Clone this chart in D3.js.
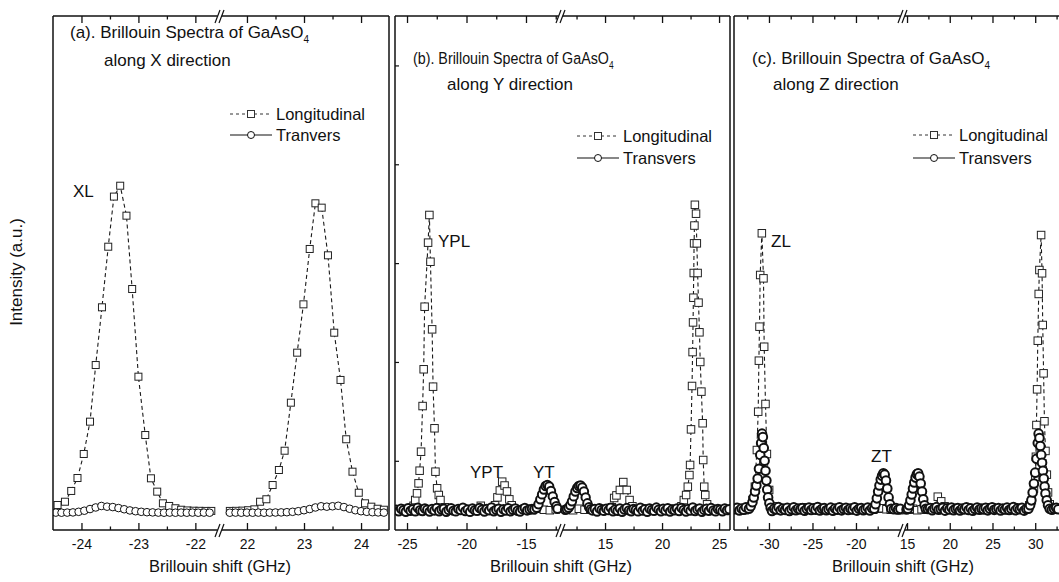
<!DOCTYPE html>
<html>
<head>
<meta charset="utf-8">
<script src="https://cdn.jsdelivr.net/npm/d3@7"></script>
<style>
  body { margin: 0; background: #fff; }
  text { font-family: Arial, "Liberation Sans", sans-serif; fill: #111; }
</style>
</head>
<body>
<svg id="chart" width="1059" height="582"></svg>
<script>
// ---- Data (Brillouin shift in GHz, intensity in arbitrary counts) ----

// (a) X direction
const aLongLeftX = [-24.42,-24.29,-24.18,-24.07,-23.96,-23.85,-23.75,-23.64,-23.53,-23.43,-23.32,-23.21,-23.11,-23.0,-22.88,-22.78,-22.67,-22.57,-22.46,-22.35,-22.25,-22.14,-22.03,-21.93,-21.82,-21.72];
const aLongLeftY = [253,286,395,526,769,1096,1669,2253,2866,3373,3483,3180,2438,1551,961,523,388,270,243,220,205,198,195,194,193,193];
const aLongRightX = [21.7,21.81,21.92,22.02,22.13,22.23,22.34,22.45,22.56,22.66,22.77,22.88,22.99,23.10,23.20,23.31,23.42,23.53,23.64,23.74,23.85,23.96,24.07,24.18,24.29,24.4];
const aLongRightY = [193,194,196,200,209,286,311,455,607,802,1288,1794,2283,2843,3305,3261,2779,1996,1518,918,590,377,270,236,215,205];
const aTransLeftX = [-24.45,-24.35,-24.25,-24.15,-24.05,-23.95,-23.85,-23.75,-23.65,-23.55,-23.45,-23.35,-23.25,-23.15,-23.05,-22.95,-22.85,-22.75,-22.65,-22.55,-22.45,-22.35,-22.25,-22.15,-22.05,-21.95,-21.85,-21.75];
const aTransLeftY = [176,175,176,178,184,195,212,228,243,236,232,222,210,198,190,184,180,178,176,175,176,175,176,175,176,175,176,175];
const aTransRightX = [21.7,21.8,21.9,22.0,22.1,22.2,22.3,22.4,22.5,22.6,22.7,22.8,22.9,23.0,23.1,23.2,23.3,23.4,23.5,23.6,23.7,23.8,23.9,24.0,24.1,24.2,24.3,24.4];
const aTransRightY = [175,176,175,176,175,176,175,176,177,178,180,184,190,200,212,228,240,236,240,245,232,215,200,190,184,180,178,176];

// (b) Y direction
const bLongLeftX = [-25.8,-25.3,-24.8,-24.45,-24.31,-24.16,-24.03,-23.94,-23.82,-23.69,-23.60,-23.52,-23.23,-23.12,-23.03,-22.89,-22.81,-22.69,-22.61,-22.47,-22.33,-22.19,-21.8,-21.3,-20.8,-20.3,-19.8,-19.3,-18.8,-18.3,-17.8,-17.6,-17.4,-17.2,-17.0,-16.8,-16.6,-16.4,-16.2,-16.0,-15.5,-15.0,-14.5,-14.0,-13.5,-13.0,-12.5];
const bLongLeftY = [205,215,222,245,303,371,472,600,792,1254,1626,2259,2907,3187,2714,2030,1450,1029,590,422,354,303,230,210,200,215,205,210,245,215,210,250,330,400,489,450,390,310,250,215,205,210,200,215,205,200,210];
const bLongRightX = [11.7,12.2,12.7,13.2,13.7,14.2,14.7,15.2,15.6,15.8,16.0,16.3,16.6,16.9,17.15,17.4,17.8,18.3,18.8,19.3,19.8,20.3,20.8,21.3,21.7,21.91,22.11,22.26,22.40,22.46,22.54,22.63,22.68,22.72,22.75,22.78,22.81,22.84,22.88,22.98,23.05,23.12,23.20,23.28,23.35,23.45,23.56,23.61,23.70,23.79,23.95,24.4,24.9,25.4,25.9];
const bLongRightY = [210,200,215,205,210,200,215,205,230,324,350,405,485,405,303,240,210,205,215,200,210,205,215,205,240,303,354,438,556,658,1018,1457,1800,2100,2350,2600,2900,3080,3290,3200,2900,2600,2300,2000,1700,1400,1080,708,438,354,260,215,205,210,205];
const bTransLeftStart = -25.9, bTransRightStart = 13.9, bTransStep = 0.2;
const bTransLeftBase = [205,190,215,200,185,220,195,210,188,225,200,192,218,205,186,212,198,224,190,207,215,185,203,220,196,188,214,202,226,191,208,183,219,200,193,222,206,187,213,199,228,190,205,216,184,210,197,221,189,204,217,195,186,211,223,198,207,214];
const bTransRightBase = [198,212,187,220,204,193,216,201,226,189,209,195,219,185,207,222,199,190,214,203,188,225,196,211,184,218,202,193,227,206,189,215,198,221,186,209,200,217,191,224,204,187,213,196,229,192,208,219,185,203,215,194,222,199,188,212,206,190,218,201,210];
const bTransLeftPeakX = [-14.3,-14.1,-13.95,-13.8,-13.65,-13.5,-13.35,-13.2,-13.05,-12.9,-12.75,-12.6,-12.45,-12.35];
const bTransLeftPeakY = [210,225,260,310,360,410,445,455,440,395,340,285,240,215];
const bTransRightPeakX = [11.5,11.65,11.8,11.95,12.1,12.25,12.4,12.55,12.7,12.85,13.0,13.15,13.3,13.45,13.6,13.75];
const bTransRightPeakY = [205,210,225,250,290,340,390,425,445,450,430,390,330,270,230,210];

// (c) Z direction
const cLongLeftX = [-33.8,-33.3,-32.8,-32.3,-31.9,-31.62,-31.39,-31.24,-31.16,-31.09,-31.01,-30.82,-30.63,-30.55,-30.40,-30.24,-29.98,-29.5,-29.0,-28.5,-28.0,-27.5,-27.0,-26.5,-26.0,-25.5,-25.0,-24.5,-24.0,-23.5,-23.0,-22.5,-22.0,-21.5,-21.0,-20.5,-20.0,-19.5,-19.0,-18.5,-18.0,-17.5,-17.0,-16.5,-16.0,-15.5,-15.0];
const cLongLeftY = [205,215,200,230,303,438,809,1197,1713,2057,2580,3002,2546,1854,1275,769,405,240,210,205,215,200,210,205,230,215,205,210,200,215,205,210,220,205,215,200,210,205,215,210,205,215,220,210,205,215,200];
const cLongRightX = [14.9,15.2,15.7,16.2,16.7,17.2,17.7,18.2,18.6,19.0,19.4,19.9,20.4,20.9,21.4,21.9,22.4,22.9,23.4,23.9,24.4,24.9,25.4,25.9,26.4,26.9,27.4,27.9,28.4,28.9,29.3,29.6,29.85,30.0,30.08,30.14,30.22,30.3,30.41,30.49,30.69,30.8,30.88,30.98,31.08,31.2,31.36,31.5,31.7,32.1,32.5];
const cLongRightY = [210,205,215,200,210,205,215,230,337,290,240,210,205,215,205,210,220,205,215,200,210,230,205,215,210,200,215,205,210,220,250,300,420,539,741,1062,1423,1915,2388,2630,2984,2597,2074,1585,1100,800,560,380,260,215,205];
const cTransLeftStart = -33.9, cTransRightStart = 14.95, cTransStep = 0.25;
const cTransLeftBase = [210,225,198,218,205,230,195,212,222,200,215,228,196,209,220,203,226,192,214,207,231,199,217,204,224,193,211,229,201,216,208,223,195,213,227,202,219,206,233,197,214,221,200,210,226,194,218,205,229,199,212,224,203,217,208,230,196,215,222,201,211,227,198,219,206,225,193,213,220,204,216,228,199,210,223,207,214];
const cTransRightBase = [208,222,197,215,229,203,218,210,226,194,213,221,200,217,231,205,212,224,196,219,207,228,201,214,223,198,216,209,230,203,220,195,213,227,206,218,211,225,199,215,229,204,212,221,197,217,208,226,202,214,232,200,219,210,224,196,213,228,205,218,209,222,199,216,227,203,211,220,206,214,225,210];
const cTransZLX = [-32.3,-32.1,-31.9,-31.75,-31.6,-31.45,-31.3,-31.15,-31.0,-30.9,-30.8,-30.7,-30.6,-30.5,-30.4,-30.3,-30.2,-30.1,-29.95,-29.8];
const cTransZLY = [215,240,280,330,390,450,520,620,760,880,975,940,830,700,600,500,410,330,270,225];
const cTransZTX = [-17.9,-17.75,-17.6,-17.45,-17.3,-17.15,-17.0,-16.85,-16.7,-16.55,-16.4,-16.25,-16.1,-15.95];
const cTransZTY = [215,260,320,390,450,510,550,573,560,500,420,330,260,215];
const cTransRightPeak1X = [15.1,15.25,15.4,15.55,15.7,15.85,16.0,16.15,16.3,16.45,16.6,16.75,16.9,17.05,17.2];
const cTransRightPeak1Y = [215,250,300,360,420,480,530,565,573,540,470,390,310,250,215];
const cTransRightPeak2X = [29.2,29.4,29.55,29.7,29.85,30.0,30.15,30.3,30.4,30.5,30.6,30.7,30.8,30.9,31.0,31.1,31.2,31.35,31.5,31.7];
const cTransRightPeak2Y = [215,250,300,380,470,580,720,880,975,930,850,760,680,600,520,440,370,300,250,215];

// Ticks
const aMajorL = [-24,-23,-22], aMinorL = [-23.5,-22.5], aMajorR = [22,23,24], aMinorR = [22.5,23.5];
const bMajorL = [-25,-20,-15], bMinorL = [-22.5,-17.5,-12.5], bMajorR = [15,20,25], bMinorR = [12.5,17.5,22.5];
const cMajorL = [-30,-25,-20], cMinorL = [-32.5,-27.5,-22.5,-17.5], cMajorR = [15,20,25,30], cMinorR = [17.5,22.5,27.5,32.5];
const yTicksB = [700,1700,2700,3700,4700];

// ---- helpers ----
function pts(xs, ys) { return d3.zip(xs, ys); }

// baseline grid plus explicit peak points; grid points under a peak are dropped
function withPeaks(start, step, base, peaks) {
  const grid = base.map((v, i) => [start + i * step, v]);
  const keep = grid.filter(d => !peaks.some(p => d[0] >= d3.min(p[0]) - step / 2 && d[0] <= d3.max(p[0]) + step / 2));
  return keep.concat(peaks.flatMap(p => pts(p[0], p[1]))).sort((a, b) => a[0] - b[0]);
}

const yTop = 16, yBottom = 530;
const y = d3.scaleLinear().domain([0, 5200]).range([yBottom, yTop]);

const panels = [
  { key: "a", x0: 53, x1: 389, bx: 220, domL: [-24.5, -21.62], domR: [21.58, 24.49],
    majL: aMajorL, minL: aMinorL, majR: aMajorR, minR: aMinorR, r: 3.8, cw: 1, sq: 7,
    longL: pts(aLongLeftX, aLongLeftY), longR: pts(aLongRightX, aLongRightY),
    transL: pts(aTransLeftX, aTransLeftY), transR: pts(aTransRightX, aTransRightY) },
  { key: "b", x0: 395, x1: 730, bx: 561, domL: [-26.01, -12.31], domR: [11.4, 25.96],
    majL: bMajorL, minL: bMinorL, majR: bMajorR, minR: bMinorR, r: 4.2, cw: 2, sq: 7.5,
    longL: pts(bLongLeftX, bLongLeftY), longR: pts(bLongRightX, bLongRightY),
    transL: withPeaks(bTransLeftStart, bTransStep, bTransLeftBase, [[bTransLeftPeakX, bTransLeftPeakY]]),
    transR: withPeaks(bTransRightStart, bTransStep, bTransRightBase, [[bTransRightPeakX, bTransRightPeakY]]) },
  { key: "c", x0: 734, x1: 1060, bx: 903, domL: [-34.02, -14.94], domR: [14.88, 32.9],
    majL: cMajorL, minL: cMinorL, majR: cMajorR, minR: cMinorR, r: 4.3, cw: 2, sq: 7.5,
    longL: pts(cLongLeftX, cLongLeftY), longR: pts(cLongRightX, cLongRightY),
    transL: withPeaks(cTransLeftStart, cTransStep, cTransLeftBase, [[cTransZLX, cTransZLY], [cTransZTX, cTransZTY]]),
    transR: withPeaks(cTransRightStart, cTransStep, cTransRightBase, [[cTransRightPeak1X, cTransRightPeak1Y], [cTransRightPeak2X, cTransRightPeak2Y]]) }
];

const svg = d3.select("#chart");

panels.forEach(p => {
  const g = svg.append("g");
  const sL = d3.scaleLinear().domain(p.domL).range([p.x0, p.bx - 3]);
  const sR = d3.scaleLinear().domain(p.domR).range([p.bx + 3, p.x1]);

  svg.append("clipPath").attr("id", "clip-" + p.key)
    .append("rect").attr("x", p.x0).attr("y", yTop).attr("width", p.x1 - p.x0).attr("height", yBottom - yTop);
  const data = g.append("g").attr("clip-path", `url(#clip-${p.key})`);

  [[sL, p.longL, p.transL], [sR, p.longR, p.transR]].forEach(([sx, L, T]) => {
    const line = d3.line().x(d => sx(d[0])).y(d => y(d[1]));
    data.append("path").datum(L).attr("d", line)
      .attr("fill", "none").attr("stroke", "#1a1a1a").attr("stroke-width", 1.1).attr("stroke-dasharray", "4,3");
    data.append("g").selectAll("rect").data(L).join("rect")
      .attr("x", d => sx(d[0]) - p.sq / 2).attr("y", d => y(d[1]) - p.sq / 2)
      .attr("width", p.sq).attr("height", p.sq)
      .attr("fill", "#fff").attr("stroke", "#222").attr("stroke-width", 1);
    data.append("path").datum(T).attr("d", line)
      .attr("fill", "none").attr("stroke", "#1a1a1a").attr("stroke-width", 0.9);
    data.append("g").selectAll("circle").data(T).join("circle")
      .attr("cx", d => sx(d[0])).attr("cy", d => y(d[1])).attr("r", p.r)
      .attr("fill", "#fff").attr("stroke", "#111").attr("stroke-width", p.cw);
  });

  // axes (ticks inward, no domain path)
  [[sL, p.majL, p.minL], [sR, p.majR, p.minR]].forEach(([sx, maj, min]) => {
    const bot = g.append("g").attr("transform", `translate(0,${yBottom})`)
      .call(d3.axisBottom(sx).tickValues(maj).tickSize(-7).tickSizeOuter(0).tickPadding(9).tickFormat(d => String(d)));
    bot.append("g").call(d3.axisBottom(sx).tickValues(min).tickSize(-3.5).tickSizeOuter(0).tickFormat(""));
    const top = g.append("g").attr("transform", `translate(0,${yTop})`)
      .call(d3.axisTop(sx).tickValues(maj).tickSize(-7).tickSizeOuter(0).tickFormat(""));
    top.append("g").call(d3.axisTop(sx).tickValues(min).tickSize(-3.5).tickSizeOuter(0).tickFormat(""));
    [bot, top].forEach(a => {
      a.selectAll(".domain").remove();
      a.attr("font-family", null).attr("font-size", null);
      a.selectAll("line").attr("stroke", "#111").attr("stroke-width", 1.3);
      a.selectAll("text").attr("font-size", 14).attr("fill", "#111");
    });
  });

  if (p.key === "b") {
    const ya = g.append("g").attr("transform", `translate(${p.x0},0)`)
      .call(d3.axisRight(y).tickValues(yTicksB).tickSize(4).tickFormat(""));
    ya.selectAll(".domain").remove();
    ya.selectAll("line").attr("stroke", "#111").attr("stroke-width", 1.2);
  }

  // frame with broken horizontal axes
  const fr = g.append("g").attr("stroke", "#111").attr("stroke-width", 1.5).attr("fill", "none");
  [yTop, yBottom].forEach(yy => {
    fr.append("line").attr("x1", p.x0).attr("x2", p.bx - 2.3).attr("y1", yy).attr("y2", yy);
    fr.append("line").attr("x1", p.bx + 1.7).attr("x2", p.x1).attr("y1", yy).attr("y2", yy);
    fr.append("line").attr("x1", p.bx - 5).attr("y1", yy + 7).attr("x2", p.bx).attr("y2", yy - 6).attr("stroke-width", 1.2);
    fr.append("line").attr("x1", p.bx - 1).attr("y1", yy + 7).attr("x2", p.bx + 4).attr("y2", yy - 6).attr("stroke-width", 1.2);
  });
  fr.append("line").attr("x1", p.x0).attr("x2", p.x0).attr("y1", yTop).attr("y2", yBottom);
  fr.append("line").attr("x1", p.x1).attr("x2", p.x1).attr("y1", yTop).attr("y2", yBottom);

  // x-axis title
  g.append("text").attr("x", p.bx).attr("y", 572).attr("text-anchor", "middle")
    .attr("font-size", 16.5).text("Brillouin shift (GHz)");
});

// titles (panel b's first line is set narrower in the source figure)
const titles = [
  { tag: "(a)", dir: "X", x1: 70, y1: 38, x2: 104, y2: 66, sx: 1 },
  { tag: "(b)", dir: "Y", x1: 413, y1: 64, x2: 447, y2: 90, sx: 0.84 },
  { tag: "(c)", dir: "Z", x1: 752, y1: 64, x2: 773, y2: 90, sx: 1 }
];
titles.forEach(t => {
  const tx = svg.append("text").attr("transform", `translate(${t.x1},${t.y1}) scale(${t.sx},1)`).attr("font-size", 17);
  tx.append("tspan").text(`${t.tag}. Brillouin Spectra of GaAsO`);
  tx.append("tspan").attr("font-size", 10).attr("dy", 5).text("4");
  svg.append("text").attr("x", t.x2).attr("y", t.y2).attr("font-size", 17).text(`along ${t.dir} direction`);
});

// legends
const legends = [
  { x: 230, y1: 114, y2: 135, trans: "Tranvers" },
  { x: 577, y1: 136, y2: 158, trans: "Transvers" },
  { x: 913, y1: 135, y2: 158, trans: "Transvers" }
];
legends.forEach(l => {
  const g = svg.append("g");
  g.append("line").attr("x1", l.x).attr("x2", l.x + 42).attr("y1", l.y1).attr("y2", l.y1)
    .attr("stroke", "#333").attr("stroke-width", 1).attr("stroke-dasharray", "3,3");
  g.append("rect").attr("x", l.x + 17.5).attr("y", l.y1 - 3.5).attr("width", 7).attr("height", 7)
    .attr("fill", "#fff").attr("stroke", "#333");
  g.append("text").attr("x", l.x + 46).attr("y", l.y1).attr("dy", "0.36em").attr("font-size", 16.5).text("Longitudinal");
  g.append("line").attr("x1", l.x).attr("x2", l.x + 42).attr("y1", l.y2).attr("y2", l.y2)
    .attr("stroke", "#111").attr("stroke-width", 1.1);
  g.append("circle").attr("cx", l.x + 21).attr("cy", l.y2).attr("r", 3.5)
    .attr("fill", "#fff").attr("stroke", "#111");
  g.append("text").attr("x", l.x + 46).attr("y", l.y2).attr("dy", "0.36em").attr("font-size", 16.5).text(l.trans);
});

// peak labels
const peakLabels = [["XL", 73, 197], ["YPL", 438, 247], ["YPT", 470, 478], ["YT", 533, 478], ["ZL", 771, 247], ["ZT", 871, 462]];
svg.selectAll(".peak").data(peakLabels).join("text")
  .attr("x", d => d[1]).attr("y", d => d[2]).attr("font-size", 17).text(d => d[0]);

// y-axis title
svg.append("text").attr("transform", "translate(22,272) rotate(-90)").attr("text-anchor", "middle")
  .attr("font-size", 17).text("Intensity (a.u.)");
</script>
</body>
</html>
